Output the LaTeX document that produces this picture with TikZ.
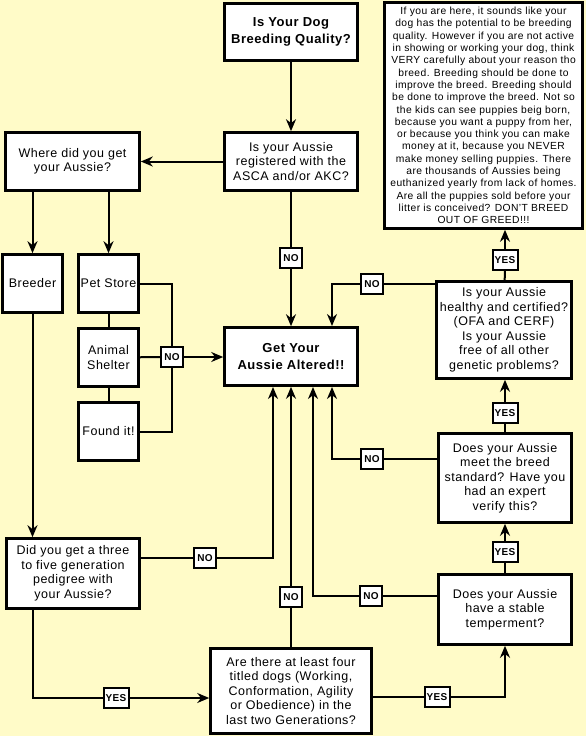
\documentclass[tikz,border=0pt]{standalone}
\usepackage{fontspec}
\setmainfont[LetterSpace=4]{Liberation Sans}
\usetikzlibrary{positioning, arrows.meta}
\definecolor{paper}{RGB}{255,251,200}
\tikzset{
  box/.style={draw, fill=white, line width=2.6pt, align=center, inner sep=1pt,
    font=\fontsize{12.5}{14.5}\selectfont},
  bigbox/.style={box, font=\bfseries\fontsize{13}{16.5}\selectfont},
  lbl/.style={draw, fill=white, line width=2pt, inner sep=0pt, minimum width=22pt,
    minimum height=20pt, font=\bfseries\fontsize{10}{10}\selectfont},
  wire/.style={line width=2pt},
  arr/.style={wire, -{Stealth[length=12pt, width=10pt]}}}

\begin{document}
\begin{tikzpicture}[x=1pt, y=-1pt]
  \fill[paper] (0,0) rectangle (586,736);
  \useasboundingbox (0,0) rectangle (586,736);
  % boxes
  \node[bigbox, minimum width=133pt, minimum height=57pt] (quality) at (291,32) {Is Your Dog\\Breeding Quality?};
  \node[box, minimum width=133pt, minimum height=58pt] (registered) at (291,161.5) {Is your Aussie\\registered with the\\ASCA and/or AKC?};
  \node[box, minimum width=134pt, minimum height=58pt] (where) at (72.5,161.5) {Where did you get\\your Aussie?};
  \node[box, minimum width=60pt, minimum height=58pt] (breeder) at (32.5,283.5) {Breeder};
  \node[box, minimum width=60pt, minimum height=58pt] (petstore) at (108.5,283.5) {Pet Store};
  \node[box, minimum width=60pt, minimum height=58pt] (shelter) at (108.5,357.5) {Animal\\Shelter};
  \node[box, minimum width=60pt, minimum height=58pt] (found) at (108.5,431.5) {Found it!};
  \node[bigbox, minimum width=133pt, minimum height=58pt] (altered) at (291,356.5) {Get Your\\Aussie Altered!!};
  \node[box, minimum width=198pt, minimum height=226pt, font=\fontsize{10.3}{12.3}\selectfont] (advice) at (483.5,115.5)
    {If you are here, it sounds like your\\dog has the potential to be breeding\\quality. However if you are not active\\
     in showing or working your dog, think\\VERY carefully about your reason tho\\breed. Breeding should be done to\\
     improve the breed. Breeding should\\be done to improve the breed. Not so\\the kids can see puppies beig born,\\
     because you want a puppy from her,\\or because you think you can make\\money at it, because you NEVER\\
     make money selling puppies. There\\are thousands of Aussies being\\euthanized yearly from lack of homes.\\
     Are all the puppies sold before your\\litter is conceived? DON'T BREED\\OUT OF GREED!!!};
  \node[box, minimum width=135pt, minimum height=97pt] (healthy) at (504,330) {Is your Aussie\\healthy and certified?\\(OFA and CERF)\\Is your Aussie\\free of all other\\genetic problems?};
  \node[box, minimum width=133pt, minimum height=89pt] (standard) at (505,478) {Does your Aussie\\meet the breed\\standard? Have you\\had an expert\\verify this?};
  \node[box, minimum width=133pt, minimum height=70pt] (stable) at (505,609.5) {Does your Aussie\\have a stable\\temperment?};
  \node[box, minimum width=161pt, minimum height=85pt] (titled) at (291,691) {Are there at least four\\titled dogs (Working,\\Conformation, Agility\\or Obedience) in the\\last two Generations?};
  \node[box, minimum width=133pt, minimum height=70pt] (pedigree) at (73,573.5) {Did you get a three\\to five generation\\pedigree with\\your Aussie?};
  % answers
  \node[lbl] (nosh) at (172,357) {NO};
  \node[lbl] (noreg) at (291,258) {NO};
  \node[lbl, minimum width=25pt] (yeshe) at (505,260) {YES};
  \node[lbl] (nohe) at (372,284) {NO};
  \node[lbl, minimum width=25pt] (yesst) at (505,413) {YES};
  \node[lbl] (nost) at (372,459) {NO};
  \node[lbl, minimum width=25pt] (yessb) at (505,552) {YES};
  \node[lbl] (nosb) at (371,596) {NO};
  \node[lbl] (noti) at (291,597) {NO};
  \node[lbl, minimum width=25pt] (yesti) at (437,697) {YES};
  \node[lbl] (nope) at (205,558) {NO};
  \node[lbl, minimum width=25pt] (yespe) at (116,698) {YES};
  % entry points on the altered box
  \coordinate (a1) at (273,387);
  \coordinate (a3) at (313,387);
  \coordinate (a4) at (332,387);
  \coordinate (a5) at (332,326);
  % connectors
  \draw[arr] (quality) -- (registered);
  \draw[arr] (registered) -- (where);
  \draw[arr] (where.south -| breeder) -- (breeder);
  \draw[arr] (where.south -| petstore) -- (petstore);
  \draw[wire] (petstore) -- (shelter);
  \draw[wire] (shelter) -- (found);
  \draw[wire] (petstore) -| (nosh);
  \draw[wire] (found) -| (nosh);
  \draw[wire] (shelter) -- (nosh);
  \draw[arr] (nosh) -- (nosh -| altered.west);
  \draw[wire] (registered) -- (noreg);
  \draw[arr] (noreg) -- (altered);
  \draw[wire] (healthy) -- (yeshe);
  \draw[arr] (yeshe) -- (yeshe |- advice.south);
  \draw[wire] (nohe) -- (nohe -| healthy.west);
  \draw[arr] (nohe) -| (a5);
  \draw[wire] (standard) -- (yesst);
  \draw[arr] (yesst) -- (yesst |- healthy.south);
  \draw[wire] (nost) -- (nost -| standard.west);
  \draw[arr] (nost) -| (a4);
  \draw[wire] (stable) -- (yessb);
  \draw[arr] (yessb) -- (standard);
  \draw[wire] (nosb) -- (nosb -| stable.west);
  \draw[arr] (nosb) -| (a3);
  \draw[wire] (titled) -- (noti);
  \draw[arr] (noti) -- (altered);
  \draw[wire] (yesti -| titled.east) -- (yesti);
  \draw[arr] (yesti) -| (stable);
  \draw[wire] (nope -| pedigree.east) -- (nope);
  \draw[arr] (nope) -| (a1);
  \draw[arr] (breeder) -- (breeder |- pedigree.north);
  \draw[wire] (pedigree.south -| breeder) |- (yespe);
  \draw[arr] (yespe) -- (yespe -| titled.west);
\end{tikzpicture}
\end{document}
